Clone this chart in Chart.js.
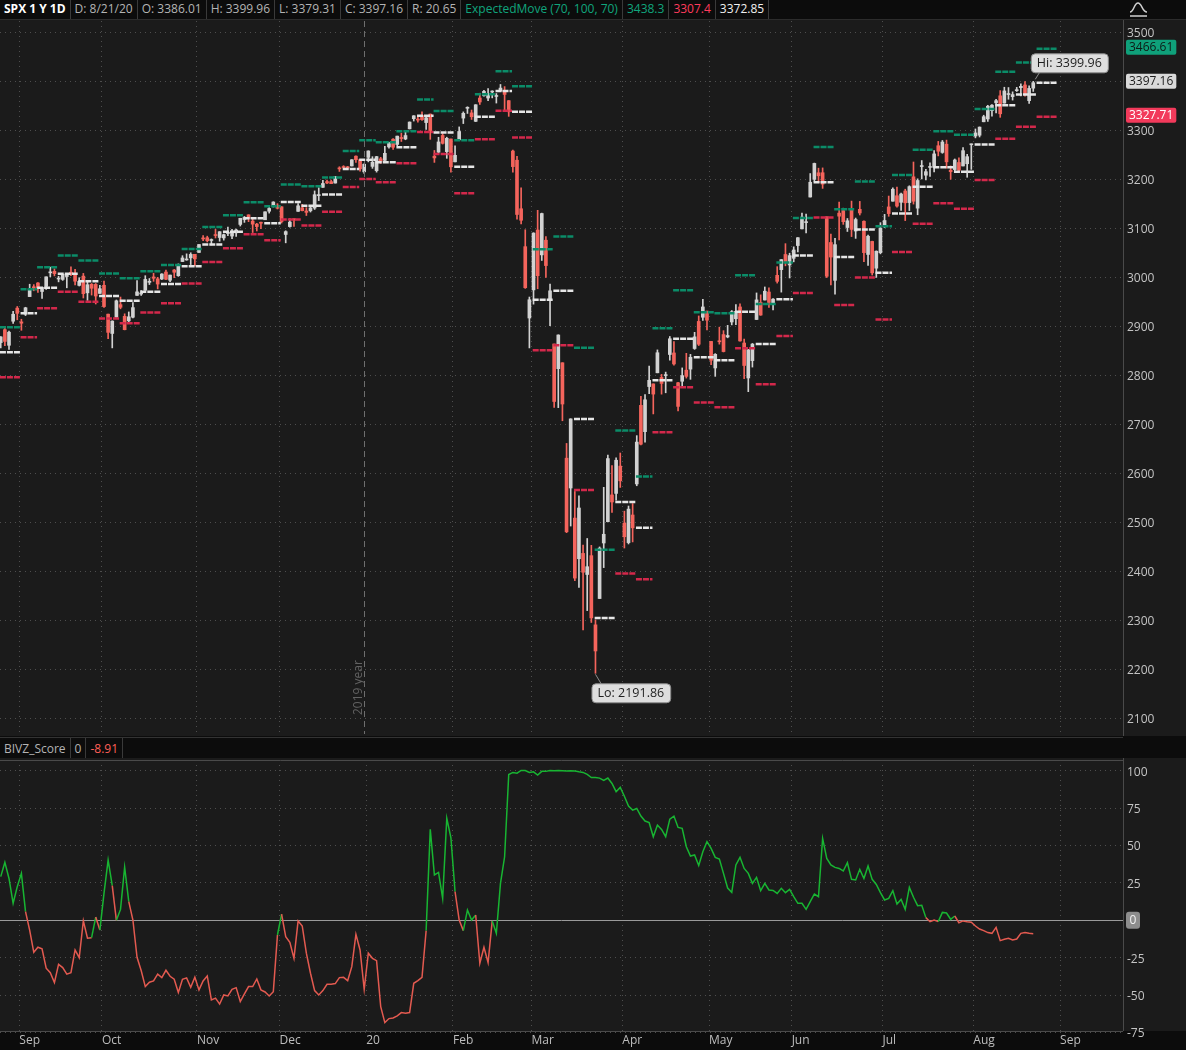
<!DOCTYPE html>
<html>
<head>
<meta charset="utf-8">
<script src="https://cdn.jsdelivr.net/npm/chart.js@4.4.1/dist/chart.umd.min.js"></script>
<style>
  body { margin: 0; width: 1186px; height: 1050px; overflow: hidden; background: #0c0c0c; font-family: 'Open Sans', sans-serif; }
  .bar { position: absolute; left: 0; display: flex; font-size: 12px; background: #0c0c0c; }
  .bar span { padding: 0 4px; border-right: 1px solid #3a3a3a; white-space: nowrap; }
  #hdr { top: 0; width: 1186px; height: 19px; line-height: 18px; border-bottom: 1px solid #2c2c2c; }
  #subhdr { top: 737px; width: 1123px; height: 21px; line-height: 22px; border-top: 1px solid #333; }
  #icon { position: absolute; left: 1127px; top: 0; }
  canvas { position: absolute; left: 0; }
  #main { top: 20px; }
  #sub { top: 758px; }
</style>
</head>
<body>
<div id="hdr" class="bar"></div>
<svg id="icon" width="24" height="19"><path d="M3 12 C7 12 7 3 11 3 S15 12 20 12" stroke="#d0d0d0" stroke-width="1.5" fill="none"/><path d="M3 16 H20" stroke="#d0d0d0" stroke-width="1.5"/></svg>
<canvas id="main" width="1186" height="716"></canvas>
<div id="subhdr" class="bar"></div>
<canvas id="sub" width="1186" height="292"></canvas>
<script>
// ============================================
// DATA  (SPX daily, 8/26/19 .. 8/21/20)
// ============================================

const LAST_DATE = "8/21/20";

const OPEN = [
  2866.70, 2893.14, 2861.28, 2910.37, 2937.09,
  2909.01, 2924.67, 2960.60, 2980.33, 2988.43, 2971.01, 2981.41, 3009.08, 3012.21, 2996.41, 2995.67, 3001.50, 3010.36, 3008.42, 2983.50, 3002.43, 2968.35, 2985.73, 2985.47, 2967.07,
  2983.69, 2924.78, 2885.38, 2918.56, 2944.23, 2920.40, 2911.10, 2918.55, 2963.07, 2965.81, 2973.61, 2989.68, 3000.77, 2996.84, 2996.48, 3010.73, 2994.01, 3014.78, 3003.32, 3032.12, 3035.39, 3039.74, 3046.90,
  3050.72, 3078.96, 3080.80, 3075.10, 3087.02, 3081.25, 3080.33, 3089.28, 3084.18, 3090.75, 3107.92, 3117.91, 3127.45, 3114.66, 3108.49, 3111.41, 3117.44, 3134.85, 3145.49, 3147.18,
  3143.85, 3087.41, 3103.50, 3119.21, 3134.62, 3141.86, 3135.36, 3135.75, 3141.23, 3166.65, 3183.63, 3195.40, 3195.21, 3192.32, 3223.33, 3226.05, 3225.45, 3227.20, 3247.23, 3240.09, 3215.18,
  3244.67, 3226.36, 3217.55, 3241.86, 3238.59, 3266.03, 3281.81, 3271.13, 3285.35, 3282.27, 3302.97, 3323.66, 3321.03, 3330.02, 3315.77, 3333.10, 3247.16, 3255.35, 3289.46, 3256.45, 3282.33,
  3235.66, 3280.61, 3324.91, 3344.92, 3335.54, 3318.28, 3365.87, 3370.50, 3365.90, 3378.08, 3369.04, 3380.39, 3380.45, 3360.50, 3257.61, 3238.94, 3139.90, 3062.54, 2916.90,
  2974.28, 3096.46, 3045.75, 3075.70, 2954.20, 2863.89, 2813.48, 2825.60, 2630.86, 2569.99, 2508.59, 2425.66, 2436.50, 2393.48, 2431.94, 2290.71, 2344.44, 2457.77, 2501.29, 2555.87, 2558.98, 2614.69,
  2498.08, 2458.54, 2514.92, 2578.28, 2738.65, 2685.00, 2776.99, 2782.46, 2805.10, 2795.64, 2799.34, 2842.43, 2845.62, 2784.81, 2787.89, 2810.42, 2812.64, 2854.65, 2909.96, 2918.46, 2930.91,
  2869.09, 2815.01, 2868.88, 2883.14, 2878.26, 2908.83, 2915.46, 2939.50, 2865.86, 2794.54, 2829.95, 2913.86, 2948.59, 2953.63, 2969.95, 2948.05, 3004.08, 3015.65, 3046.61, 3025.17,
  3038.78, 3064.78, 3098.90, 3111.56, 3163.84, 3199.92, 3213.32, 3213.42, 3123.53, 3071.04, 2993.76, 3131.00, 3136.13, 3101.64, 3140.29, 3094.42, 3138.70, 3114.40, 3046.60, 3073.20, 3018.59, 3050.20,
  3105.92, 3143.64, 3155.29, 3166.44, 3153.07, 3176.17, 3152.47, 3205.08, 3141.11, 3225.98, 3208.36, 3224.21, 3224.29, 3268.52, 3254.86, 3271.64, 3218.58, 3219.84, 3234.27, 3227.22, 3231.76, 3270.45,
  3288.26, 3289.92, 3317.37, 3323.17, 3340.05, 3356.04, 3370.34, 3355.46, 3372.95, 3368.66, 3380.86, 3387.04, 3392.51, 3360.48, 3386.01
];

const HIGH = [
  2879.27, 2898.79, 2890.03, 2930.50, 2940.43,
  2914.39, 2938.84, 2985.86, 2985.03, 2989.43, 2979.39, 3000.93, 3020.74, 3017.33, 3002.19, 3006.21, 3007.83, 3021.19, 3016.37, 2999.15, 3007.98, 2989.82, 2987.28, 2987.31, 2983.85,
  2992.53, 2924.78, 2911.13, 2953.74, 2959.75, 2925.47, 2929.32, 2948.46, 2993.28, 2972.84, 3003.28, 2997.54, 3008.29, 3000.00, 3007.33, 3014.57, 3004.78, 3016.07, 3027.39, 3044.08, 3047.87, 3050.10, 3046.90,
  3066.95, 3085.20, 3083.95, 3078.34, 3097.77, 3093.09, 3088.33, 3102.61, 3098.06, 3098.20, 3120.46, 3124.17, 3127.64, 3118.97, 3110.11, 3112.87, 3133.83, 3142.69, 3154.26, 3150.30,
  3144.31, 3094.97, 3119.38, 3119.45, 3150.60, 3148.87, 3142.12, 3143.98, 3176.28, 3182.68, 3197.71, 3198.22, 3198.48, 3205.48, 3225.65, 3227.78, 3226.43, 3240.08, 3247.93, 3240.92, 3231.72,
  3258.14, 3246.15, 3246.84, 3244.91, 3267.07, 3275.58, 3282.99, 3288.13, 3294.25, 3298.66, 3317.11, 3329.88, 3329.79, 3337.77, 3326.88, 3333.18, 3258.85, 3285.78, 3293.47, 3285.91, 3282.33,
  3268.44, 3306.92, 3337.58, 3347.96, 3341.42, 3352.26, 3375.63, 3381.47, 3385.09, 3380.69, 3375.01, 3393.52, 3389.15, 3360.76, 3259.81, 3246.99, 3182.51, 3097.07, 2959.72,
  3090.96, 3136.72, 3130.97, 3083.04, 2985.93, 2863.89, 2882.59, 2825.60, 2660.95, 2711.33, 2562.98, 2553.93, 2453.57, 2466.97, 2453.01, 2300.73, 2449.71, 2571.42, 2637.01, 2615.91, 2631.80, 2641.39,
  2522.75, 2533.22, 2538.18, 2676.85, 2756.89, 2760.75, 2818.57, 2782.46, 2851.85, 2801.88, 2806.51, 2879.22, 2868.98, 2785.54, 2815.10, 2844.90, 2842.71, 2887.72, 2921.15, 2954.86, 2930.91,
  2869.09, 2844.24, 2898.23, 2891.11, 2901.92, 2932.16, 2944.25, 2945.82, 2874.14, 2852.80, 2865.01, 2968.09, 2964.21, 2980.29, 2978.50, 2956.76, 3021.72, 3036.25, 3068.67, 3049.17,
  3062.18, 3081.07, 3130.94, 3128.91, 3211.72, 3233.13, 3222.71, 3223.27, 3123.53, 3088.42, 3079.76, 3153.45, 3141.16, 3120.00, 3155.53, 3120.92, 3154.90, 3115.01, 3086.25, 3073.73, 3053.89, 3111.51,
  3128.44, 3165.81, 3182.59, 3184.15, 3171.80, 3179.78, 3186.82, 3235.32, 3200.95, 3238.28, 3220.39, 3233.52, 3258.61, 3277.29, 3279.32, 3279.99, 3227.26, 3241.43, 3243.72, 3264.74, 3250.92, 3272.17,
  3302.73, 3306.84, 3330.77, 3351.03, 3352.54, 3363.29, 3381.01, 3387.89, 3387.24, 3378.51, 3387.59, 3395.06, 3399.54, 3390.80, 3399.96
];

const LOW = [
  2856.00, 2860.59, 2853.05, 2905.67, 2913.32,
  2891.85, 2921.86, 2960.60, 2972.51, 2969.39, 2957.01, 2975.31, 3000.92, 3002.90, 2990.67, 2993.73, 2978.57, 3003.16, 2984.68, 2982.23, 2957.73, 2952.86, 2963.71, 2945.53, 2967.07,
  2938.70, 2874.93, 2855.94, 2918.56, 2935.68, 2892.66, 2907.41, 2917.12, 2963.07, 2962.94, 2973.61, 2985.20, 2991.79, 2976.31, 2995.35, 2995.04, 2991.21, 2999.24, 3001.94, 3032.12, 3034.81, 3025.96, 3023.19,
  3050.72, 3074.87, 3072.15, 3065.89, 3080.23, 3073.58, 3075.82, 3084.73, 3078.80, 3083.26, 3104.60, 3112.06, 3113.47, 3091.41, 3094.55, 3099.26, 3117.44, 3131.00, 3143.41, 3139.34,
  3110.78, 3070.33, 3102.53, 3103.76, 3134.62, 3135.46, 3126.09, 3133.21, 3138.47, 3156.51, 3183.63, 3191.03, 3191.14, 3192.32, 3216.03, 3222.30, 3220.51, 3227.20, 3234.37, 3216.57, 3212.03,
  3235.53, 3222.34, 3214.64, 3232.43, 3236.67, 3263.67, 3260.86, 3268.43, 3277.19, 3280.69, 3302.82, 3318.86, 3316.61, 3320.04, 3301.87, 3281.53, 3234.50, 3253.22, 3271.89, 3242.80, 3214.68,
  3235.66, 3280.61, 3313.75, 3334.39, 3322.12, 3317.77, 3352.72, 3369.72, 3360.52, 3366.15, 3355.61, 3378.83, 3341.02, 3328.45, 3214.65, 3118.77, 3108.99, 2977.39, 2855.84,
  2945.19, 2976.63, 3034.38, 2999.83, 2901.54, 2734.43, 2734.00, 2707.22, 2478.86, 2492.37, 2380.94, 2367.04, 2280.52, 2319.78, 2295.56, 2191.86, 2344.44, 2407.53, 2500.72, 2520.02, 2545.28, 2571.15,
  2447.49, 2455.79, 2459.96, 2574.57, 2657.67, 2663.30, 2762.36, 2721.17, 2805.10, 2761.54, 2764.32, 2830.88, 2820.43, 2727.10, 2775.95, 2794.26, 2791.76, 2852.89, 2860.71, 2912.16, 2892.47,
  2821.61, 2797.85, 2863.55, 2847.65, 2876.48, 2902.88, 2903.44, 2869.59, 2793.15, 2766.64, 2816.78, 2913.86, 2922.35, 2953.63, 2938.57, 2933.59, 2988.17, 2969.75, 3023.40, 2998.61,
  3031.54, 3051.64, 3098.90, 3090.41, 3163.84, 3196.00, 3193.11, 3181.49, 2999.49, 2984.47, 2965.66, 3076.06, 3108.03, 3093.51, 3083.11, 3079.39, 3127.12, 3032.13, 3024.01, 3004.63, 2999.74, 3047.83,
  3101.17, 3124.52, 3155.29, 3142.93, 3136.53, 3115.70, 3136.22, 3149.43, 3127.66, 3200.76, 3198.59, 3205.65, 3215.16, 3247.77, 3253.10, 3222.66, 3200.05, 3214.25, 3216.17, 3227.22, 3204.13, 3220.26,
  3284.53, 3286.37, 3317.37, 3318.14, 3328.72, 3335.44, 3326.44, 3355.46, 3363.35, 3361.64, 3379.22, 3370.15, 3369.66, 3354.69, 3379.31
];

const CLOSE = [
  2878.38, 2869.16, 2887.94, 2924.58, 2926.46,
  2906.27, 2937.78, 2976.00, 2978.71, 2978.43, 2979.39, 3000.93, 3009.57, 3007.39, 2997.96, 3005.70, 3006.73, 3006.79, 2992.07, 2991.78, 2966.60, 2984.87, 2977.62, 2961.79, 2976.74,
  2940.25, 2887.61, 2910.63, 2952.01, 2938.79, 2893.06, 2919.40, 2938.13, 2970.27, 2966.15, 2995.68, 2989.69, 2997.95, 2986.20, 3006.72, 2995.99, 3004.52, 3010.29, 3022.55, 3039.42, 3036.89, 3046.77, 3037.56,
  3066.91, 3078.27, 3074.62, 3076.78, 3085.18, 3093.08, 3087.01, 3091.84, 3094.04, 3096.63, 3120.46, 3122.03, 3120.18, 3108.46, 3103.54, 3110.29, 3133.64, 3140.52, 3153.63, 3140.98,
  3113.87, 3093.20, 3112.76, 3117.43, 3145.91, 3135.96, 3132.52, 3141.63, 3168.57, 3168.80, 3191.45, 3192.52, 3191.14, 3205.37, 3221.22, 3224.01, 3223.38, 3239.91, 3240.02, 3221.29, 3230.78,
  3257.85, 3234.85, 3246.28, 3237.18, 3253.05, 3274.70, 3265.35, 3288.13, 3283.15, 3289.29, 3316.81, 3329.62, 3320.79, 3321.75, 3325.54, 3295.47, 3243.63, 3276.24, 3273.40, 3283.66, 3225.52,
  3248.92, 3297.59, 3334.69, 3345.78, 3327.71, 3352.09, 3357.75, 3379.45, 3373.94, 3380.16, 3370.29, 3386.15, 3373.23, 3337.75, 3225.89, 3128.21, 3116.39, 2978.76, 2954.22,
  3090.23, 3003.37, 3130.12, 3023.94, 2972.37, 2746.56, 2882.23, 2741.38, 2480.64, 2711.02, 2386.13, 2529.19, 2398.10, 2409.39, 2304.92, 2237.40, 2447.33, 2475.56, 2630.07, 2541.47, 2626.65, 2584.59,
  2470.50, 2526.90, 2488.65, 2663.68, 2659.41, 2749.98, 2789.82, 2761.63, 2846.06, 2783.36, 2799.55, 2874.56, 2823.16, 2736.56, 2799.31, 2797.80, 2836.74, 2878.48, 2863.39, 2939.51, 2912.43,
  2830.71, 2842.74, 2868.44, 2848.42, 2881.19, 2929.80, 2930.32, 2870.12, 2820.00, 2852.50, 2863.70, 2953.91, 2922.94, 2971.61, 2948.51, 2955.45, 2991.77, 3036.13, 3029.73, 3044.31,
  3055.73, 3080.82, 3122.87, 3112.35, 3193.93, 3232.39, 3207.18, 3190.14, 3002.10, 3041.31, 3066.59, 3124.74, 3113.49, 3115.34, 3097.74, 3117.86, 3131.29, 3050.33, 3083.76, 3009.05, 3053.24, 3100.29,
  3115.86, 3130.01, 3179.72, 3145.32, 3169.94, 3152.05, 3185.04, 3155.22, 3197.52, 3226.56, 3215.57, 3224.73, 3251.84, 3257.30, 3276.02, 3235.66, 3215.63, 3239.41, 3218.44, 3258.44, 3246.22, 3271.12,
  3294.61, 3306.51, 3327.77, 3349.16, 3351.28, 3360.47, 3333.69, 3380.35, 3373.43, 3372.85, 3381.99, 3389.78, 3374.85, 3385.51, 3397.16
];

// weekly expected move: first bar of each week, previous close, half range
const EM_START = [
  0, 5, 9, 14, 19, 24, 29, 34, 39, 44, 49, 54, 59, 64, 68, 73, 78, 83, 87, 91,
  96, 101, 105, 110, 115, 120, 124, 129, 134, 139, 144, 149, 154, 158, 163, 168, 173, 178, 183, 188,
  192, 197, 202, 207, 212, 216, 221, 226, 231, 236, 241, 246, 251, 256
];

const EM_CENTER = [
  2847.11, 2926.46, 2978.71, 3007.39, 2992.07, 2961.79, 2952.01, 2970.27, 2986.20, 3022.55,
  3066.91, 3093.08, 3120.46, 3110.29, 3153.63, 3145.91, 3168.80, 3221.22, 3240.02, 3234.85,
  3265.35, 3329.62, 3295.47, 3225.52, 3327.71, 3380.16, 3337.75, 2954.22, 2972.37, 2711.02,
  2304.92, 2541.47, 2488.65, 2789.82, 2874.56, 2836.74, 2830.71, 2929.80, 2863.70, 2955.45,
  3044.31, 3193.93, 3041.31, 3097.74, 3009.05, 3130.01, 3185.04, 3224.73, 3215.63, 3271.12,
  3351.28, 3372.85, 3397.16
];

const EM_MOVE = [
  51, 49, 42, 37, 42, 46, 46, 42, 39, 35,
  35.7, 33.7, 32.7, 34.7, 35.7, 40, 35, 36.7, 39.5, 41,
  32.7, 33, 44, 54, 46, 40.5, 52.4, 103, 111, 145,
  139, 146, 105, 106, 99, 92, 96, 74.5, 82, 75,
  76.5, 72, 97.6, 98, 95, 78.6, 75.5, 73.5, 75.5, 72.4,
  68.4, 65.45, 69.45
];

// BIVZ_Score, one value per bar
const SCORE = [
  29.2, 38.8, 28, 11.4, 22.5, 31.4, 5.8, -6.5, -21.4, -18,
  -19, -32, -35, -41.6, -29.4, -31.6, -36, -35, -19.8, -25,
  -0.4, -12, -11.6, 2.2, -6.5, 18, 40.3, 23.2, 0, 7.3,
  35.6, 12.5, 0.2, -24.7, -33.6, -44.3, -41.4, -40.5, -36, -38.3,
  -33.4, -37.4, -39.4, -48.3, -39.4, -38.5, -44.8, -38, -46.5, -40.5,
  -37.2, -53.2, -52, -56, -49.9, -50.6, -46.1, -45, -54.3, -49.2,
  -44.3, -44.3, -39.2, -46.5, -47.9, -50.6, -47.7, -9.8, 4.2, -10.9,
  -14.7, -25.4, -0.4, -3.8, -22, -35.4, -47, -49.9, -47, -42.8,
  -42.8, -42.3, -38.3, -38.1, -40.3, -31, -9.4, -19.8, -46.1, -22,
  -25.4, -27, -57.7, -68.4, -65.7, -65.3, -63.9, -61.7, -62.1, -61.7,
  -42.1, -40.3, -38.1, -6.9, 60.8, 30.3, 32, 14.7, 68.2, 55.2,
  19.2, 0.2, -6.9, 6.9, 0.2, 3.6, -28.7, -18, -28.3, -0.4,
  -8.7, 24.7, 42.5, 97.5, 98.9, 98.4, 100.2, 100.2, 98.9, 99.3,
  97.1, 99.6, 99.6, 100.2, 100, 100.2, 100, 99.8, 100, 99.8,
  99.3, 98.9, 97.6, 95.5, 95.5, 95.1, 93.5, 95.1, 91.5, 86,
  88.9, 83, 76.4, 73.7, 74.8, 69.7, 66.4, 65.3, 55.9, 63.7,
  60.8, 55.9, 67.7, 69.7, 62.1, 61.5, 49.2, 43, 43.7, 36.7,
  45.9, 52.6, 48.1, 42.1, 41, 31.4, 21.6, 18.7, 37, 42.1,
  34.7, 31.4, 24.7, 28.7, 19.8, 24.7, 20.3, 20, 18, 21.4,
  18.5, 20.7, 15.8, 11.4, 11.4, 7.3, 12.5, 17.6, 15.8, 54.8,
  41.4, 37, 35.4, 34.7, 33, 38.5, 27.4, 27, 34.1, 28,
  36.3, 27.4, 24, 18.5, 13.6, 14.7, 19.8, 10.9, 14, 7.3,
  22, 15.4, 9.8, 10, 1.8, -0.9, 0.2, -0.9, 5.3, 4.9,
  0.7, 2.9, -1.6, -0.4, -0.9, -1.3, -3.8, -5.8, -6.9, -8.2,
  -8.7, -4.7, -13.6, -12.7, -12, -13.1, -12.5, -8.7, -8.2, -8.7,
  -8.91
];

// bar ranges where the score line is drawn green
const SCORE_UP_RANGES = [[0, 6], [22, 23], [24, 27], [28, 31], [67, 68], [103, 110], [112, 115], [119, 224], [227, 231]];

// month boundaries (between bars) and their labels
const MONTH_BOUNDS = [4.5, 24.5, 47.5, 67.5, 88.5, 109.5, 128.5, 150.5, 171.5, 191.5, 213.5, 235.5, 256.5];
const MONTH_LABELS = ["Sep", "Oct", "Nov", "Dec", "20", "Feb", "Mar", "Apr", "May", "Jun", "Jul", "Aug", "Sep"];
const YEAR_BREAK = 88.5;

const PRICE_TICKS = [2100, 2200, 2300, 2400, 2500, 2600, 2700, 2800, 2900, 3000, 3100, 3200, 3300, 3400, 3500];
const SCORE_TICKS = [-75, -50, -25, 0, 25, 50, 75, 100];


// ============================================
// STYLE
// ============================================

Chart.defaults.font.family = "'Open Sans', sans-serif";
Chart.defaults.font.size = 12;
Chart.defaults.color = "#c4c4c4";

const BG = "#1b1b1b";
const DARK = "#0c0c0c";
const GRID = "#4e4e4e";
const FRAME = "#4a4a4a";
const UP = "#d2d2d2";
const DOWN = "#f4645c";
const EM_GREEN = "#0b8c68";
const EM_RED = "#d3284b";
const EM_WHITE = "#e6e6e6";
const TEAL = "#10a57c";
const RED_TXT = "#ff3b5c";
const GRAY_TXT = "#b4b4b4";

const X_MIN = -0.18;
const X_MAX = 271.73;


// ============================================
// HEADERS
// ============================================

const last = CLOSE.length - 1;
const curWeek = EM_CENTER.length - 2;
const nextWeek = EM_CENTER.length - 1;

function fillBar(id, items) {
  const bar = document.getElementById(id);
  items.forEach(([text, color, bold]) => {
    const s = document.createElement("span");
    s.textContent = text;
    s.style.color = color;
    if (bold) s.style.fontWeight = "700";
    bar.appendChild(s);
  });
}

fillBar("hdr", [
  ["SPX 1 Y 1D", "#ffffff", true],
  ["D: " + LAST_DATE, GRAY_TXT],
  ["O: " + OPEN[last].toFixed(2), GRAY_TXT],
  ["H: " + HIGH[last].toFixed(2), GRAY_TXT],
  ["L: " + LOW[last].toFixed(2), GRAY_TXT],
  ["C: " + CLOSE[last].toFixed(2), GRAY_TXT],
  ["R: " + (HIGH[last] - LOW[last]).toFixed(2), GRAY_TXT],
  ["ExpectedMove (70, 100, 70)", TEAL],
  [(EM_CENTER[curWeek] + EM_MOVE[curWeek]).toFixed(1), TEAL],
  [(EM_CENTER[curWeek] - EM_MOVE[curWeek]).toFixed(1), RED_TXT],
  [EM_CENTER[curWeek].toFixed(2), "#f0f0f0"]
]);

fillBar("subhdr", [
  ["BIVZ_Score", GRAY_TXT],
  ["0", GRAY_TXT],
  [SCORE[last].toFixed(2), "#ff5f57"]
]);


// ============================================
// HELPERS
// ============================================

function monthTicks(axis) {
  axis.ticks = MONTH_BOUNDS.map(v => ({ value: v }));
}

function fitX(height) {
  return axis => {
    axis.height = height;
    axis.paddingLeft = 0;
    axis.paddingRight = 0;
  };
}

function fitY(axis) {
  axis.width = 63;
  axis.paddingTop = 0;
  axis.paddingBottom = 0;
}

function emLine(valueAt) {
  const pts = [];
  EM_CENTER.forEach((c, k) => {
    const s = EM_START[k] - 0.2;
    const e = EM_START[k + 1] - 0.2;
    const v = valueAt(k);
    pts.push({ x: s, y: v }, { x: e, y: v }, { x: e, y: null });
  });
  return pts;
}

function roundRect(ctx, x, y, w, h, r) {
  ctx.beginPath();
  ctx.moveTo(x + r, y);
  ctx.arcTo(x + w, y, x + w, y + h, r);
  ctx.arcTo(x + w, y + h, x, y + h, r);
  ctx.arcTo(x, y + h, x, y, r);
  ctx.arcTo(x, y, x + w, y, r);
  ctx.closePath();
}

function tag(ctx, x, yMid, text, bg, fg) {
  ctx.font = "12px 'Open Sans'";
  const w = ctx.measureText(text).width + 6;
  roundRect(ctx, x, yMid - 7.5, w, 15, 2);
  ctx.fillStyle = bg;
  ctx.fill();
  ctx.fillStyle = fg;
  ctx.textAlign = "left";
  ctx.textBaseline = "middle";
  ctx.fillText(text, x + 3, yMid + 0.5);
}

function bubble(ctx, x, y, text, tipX, tipY) {
  ctx.font = "12.5px 'Open Sans'";
  const w = ctx.measureText(text).width + 12;
  const h = 19;
  ctx.strokeStyle = "#8c8c8c";
  ctx.lineWidth = 1;
  ctx.beginPath();
  ctx.moveTo(tipX, tipY);
  ctx.lineTo(tipX + (y > tipY ? 6 : 5), y > tipY ? y + 1 : y + h - 1);
  ctx.stroke();
  roundRect(ctx, x + 0.5, y + 0.5, w, h, 4);
  ctx.fillStyle = "#dedede";
  ctx.fill();
  ctx.stroke();
  ctx.fillStyle = "#1e1e1e";
  ctx.textAlign = "left";
  ctx.textBaseline = "middle";
  ctx.fillText(text, x + 6, y + h / 2 + 1);
}

const background = {
  id: "background",
  beforeDraw(chart, args, opts) {
    const { ctx, chartArea: a } = chart;
    ctx.save();
    ctx.fillStyle = opts.outer || BG;
    ctx.fillRect(0, 0, chart.width, chart.height);
    ctx.fillStyle = BG;
    ctx.fillRect(0, 0, chart.width, a.bottom);
    ctx.restore();
  }
};


// ============================================
// PRICE CHART
// ============================================

const bars = CLOSE.map((c, i) => i);
const candleColors = bars.map(i => CLOSE[i] >= OPEN[i] ? UP : DOWN);

const priceOverlay = {
  id: "priceOverlay",
  afterDatasetsDraw(chart) {
    const { ctx, chartArea: a, scales: { x, y } } = chart;
    ctx.save();

    // year divider
    const yx = Math.round(x.getPixelForValue(YEAR_BREAK)) - 1.5;
    ctx.strokeStyle = "#6e6e6e";
    ctx.lineWidth = 1;
    ctx.setLineDash([6, 4]);
    ctx.beginPath();
    ctx.moveTo(yx, a.top);
    ctx.lineTo(yx, a.bottom);
    ctx.stroke();
    ctx.setLineDash([]);

    ctx.save();
    ctx.translate(yx - 6, a.bottom - 19);
    ctx.rotate(-Math.PI / 2);
    ctx.fillStyle = "#626262";
    ctx.font = "12px 'Open Sans'";
    ctx.textAlign = "left";
    ctx.textBaseline = "middle";
    ctx.fillText("2019 year", 0, 0);
    ctx.restore();

    // right border
    ctx.strokeStyle = FRAME;
    ctx.beginPath();
    ctx.moveTo(a.right + 0.5, 0);
    ctx.lineTo(a.right + 0.5, chart.height);
    ctx.stroke();

    // hi / lo bubbles
    const hi = Math.max(...HIGH);
    const lo = Math.min(...LOW);
    const hiX = x.getPixelForValue(HIGH.indexOf(hi));
    const hiY = y.getPixelForValue(hi);
    const loX = x.getPixelForValue(LOW.indexOf(lo));
    const loY = y.getPixelForValue(lo);
    bubble(ctx, hiX - 2.5, hiY - 28, "Hi: " + hi.toFixed(2), hiX + 2, hiY - 2);
    bubble(ctx, loX - 4, loY + 10, "Lo: " + lo.toFixed(2), loX, loY + 1);

    // expected move tags on the price axis
    const c = EM_CENTER[nextWeek], m = EM_MOVE[nextWeek];
    tag(ctx, a.right + 3, y.getPixelForValue(c + m) - 1.5, (c + m).toFixed(2), "#0fa07a", "#0e1a16");
    tag(ctx, a.right + 3, y.getPixelForValue(c) - 1.5, c.toFixed(2), "#d9d9d9", "#1c1c1c");
    tag(ctx, a.right + 3, y.getPixelForValue(c - m) - 1.5, (c - m).toFixed(2), "#f23a5b", "#ffffff");

    ctx.restore();
  }
};

new Chart(document.getElementById("main"), {
  type: "bar",
  data: {
    datasets: [
      {
        type: "line",
        data: emLine(k => EM_CENTER[k] + EM_MOVE[k]),
        borderColor: EM_GREEN,
        borderWidth: 2.5,
        borderDash: [6, 1],
        pointRadius: 0,
        spanGaps: false,
        order: 1
      },
      {
        type: "line",
        data: emLine(k => EM_CENTER[k]),
        borderColor: EM_WHITE,
        borderWidth: 2.5,
        borderDash: [6, 1],
        pointRadius: 0,
        spanGaps: false,
        order: 1
      },
      {
        type: "line",
        data: emLine(k => EM_CENTER[k] - EM_MOVE[k]),
        borderColor: EM_RED,
        borderWidth: 2.5,
        borderDash: [6, 1],
        pointRadius: 0,
        spanGaps: false,
        order: 1
      },
      {
        data: bars.map(i => ({ x: i, y: [OPEN[i], CLOSE[i]] })),
        backgroundColor: candleColors,
        barThickness: 3,
        minBarLength: 1,
        grouped: false,
        order: 2
      },
      {
        data: bars.map(i => ({ x: i, y: [LOW[i], HIGH[i]] })),
        backgroundColor: candleColors,
        barThickness: 1,
        grouped: false,
        order: 3
      }
    ]
  },
  options: {
    responsive: false,
    animation: false,
    devicePixelRatio: 1,
    events: [],
    layout: { padding: { top: 1, bottom: 2, left: 0, right: 0 } },
    plugins: {
      legend: { display: false },
      tooltip: { enabled: false },
      background: { outer: BG }
    },
    scales: {
      x: {
        type: "linear",
        offset: false,
        min: X_MIN,
        max: X_MAX,
        afterBuildTicks: monthTicks,
        afterFit: fitX(0),
        ticks: { display: false },
        grid: {
          offset: false,
          color: c => c.tick && c.tick.value === YEAR_BREAK ? "rgba(0,0,0,0)" : GRID,
          drawTicks: false
        },
        border: { display: false, dash: [1, 4] }
      },
      y: {
        position: "right",
        min: 2067.96,
        max: 3523.06,
        afterBuildTicks: axis => { axis.ticks = PRICE_TICKS.map(v => ({ value: v })); },
        afterFit: fitY,
        ticks: { color: "#c4c4c4", padding: 4, labelOffset: 1.5, callback: v => String(v) },
        grid: { color: GRID, drawTicks: false },
        border: { display: false, dash: [1, 4] }
      }
    }
  },
  plugins: [background, priceOverlay]
});


// ============================================
// BIVZ SCORE CHART
// ============================================

const inUpRange = i => SCORE_UP_RANGES.some(([a, b]) => i >= a && i < b);

const scoreOverlay = {
  id: "scoreOverlay",
  beforeDatasetsDraw(chart) {
    const { ctx, chartArea: a, scales: { y } } = chart;
    const zy = Math.round(y.getPixelForValue(0)) + 0.5;
    ctx.save();
    ctx.strokeStyle = "#9a9a9a";
    ctx.lineWidth = 1;
    ctx.beginPath();
    ctx.moveTo(a.left, zy);
    ctx.lineTo(a.right, zy);
    ctx.stroke();
    ctx.restore();
  },
  afterDatasetsDraw(chart) {
    const { ctx, chartArea: a, scales: { y } } = chart;
    ctx.save();
    ctx.strokeStyle = FRAME;
    ctx.lineWidth = 1;
    ctx.beginPath();
    ctx.moveTo(0, a.top + 0.5);
    ctx.lineTo(a.right, a.top + 0.5);
    ctx.moveTo(0, a.bottom + 0.5);
    ctx.lineTo(a.right, a.bottom + 0.5);
    ctx.moveTo(a.right + 0.5, 0);
    ctx.lineTo(a.right + 0.5, a.bottom);
    ctx.stroke();

    const zy = y.getPixelForValue(0);
    roundRect(ctx, a.right + 3, zy - 8.5, 14, 17, 3);
    ctx.fillStyle = "#8d8d8d";
    ctx.fill();
    ctx.fillStyle = "#f2f2f2";
    ctx.font = "12px 'Open Sans'";
    ctx.textAlign = "center";
    ctx.textBaseline = "middle";
    ctx.fillText("0", a.right + 10, zy + 0.5);
    ctx.restore();
  }
};

new Chart(document.getElementById("sub"), {
  type: "line",
  data: {
    datasets: [{
      data: SCORE.map((v, i) => ({ x: i, y: v })),
      borderWidth: 1.5,
      pointRadius: 0,
      tension: 0,
      segment: {
        borderColor: c => inUpRange(c.p0DataIndex) ? "#18b532" : "#e35a50"
      }
    }]
  },
  options: {
    responsive: false,
    animation: false,
    devicePixelRatio: 1,
    events: [],
    layout: { padding: { top: 2, bottom: 0, left: 0, right: 0 } },
    plugins: {
      legend: { display: false },
      tooltip: { enabled: false },
      background: { outer: DARK }
    },
    scales: {
      x: {
        type: "linear",
        offset: false,
        min: X_MIN,
        max: X_MAX,
        afterBuildTicks: monthTicks,
        afterFit: fitX(19),
        ticks: {
          color: "#bdbdbd",
          align: "start",
          padding: 2,
          autoSkip: false,
          maxRotation: 0,
          callback: (v, i) => MONTH_LABELS[i]
        },
        grid: { color: GRID, drawTicks: false },
        border: { display: false, dash: [1, 4] }
      },
      y: {
        position: "right",
        min: -74,
        max: 107.2,
        afterBuildTicks: axis => { axis.ticks = SCORE_TICKS.map(v => ({ value: v })); },
        afterFit: fitY,
        ticks: { color: "#c4c4c4", padding: 4, labelOffset: 1.5, callback: v => v === 0 ? "" : String(v) },
        grid: {
          color: c => c.tick && c.tick.value === 0 ? "rgba(0,0,0,0)" : GRID,
          drawTicks: false
        },
        border: { display: false, dash: [1, 4] }
      }
    }
  },
  plugins: [background, scoreOverlay]
});
</script>
</body>
</html>
